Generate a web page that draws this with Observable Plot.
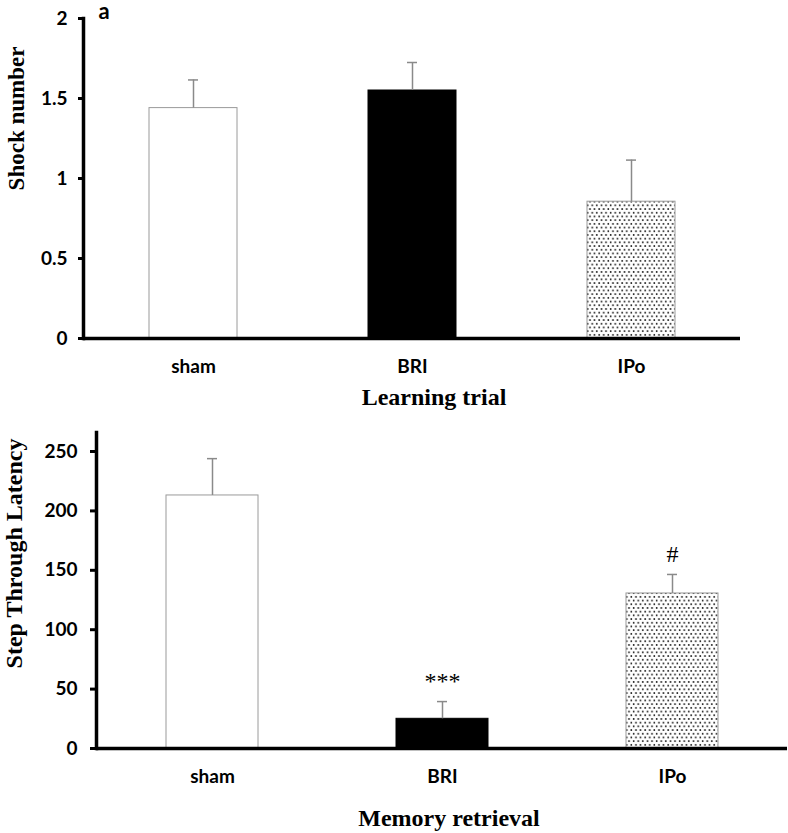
<!DOCTYPE html>
<html>
<head>
<meta charset="utf-8">
<script src="https://cdn.jsdelivr.net/npm/d3@7"></script>
<script src="https://cdn.jsdelivr.net/npm/@observablehq/plot@0.6"></script>
<style>
  html, body { margin: 0; padding: 0; background: white; }
  #chart svg { display: block; }
</style>
</head>
<body>
<svg width="0" height="0" style="position:absolute">
  <defs>
    <pattern id="dots" patternUnits="userSpaceOnUse" width="4.6" height="7.4">
      <rect width="4.6" height="7.4" fill="white"></rect>
      <circle cx="1.15" cy="1.85" r="0.9" fill="#111"></circle>
      <circle cx="3.45" cy="5.55" r="0.9" fill="#111"></circle>
    </pattern>
  </defs>
</svg>
<div id="chart"></div>
<script>
// ---- data ----
const groups = ["sham", "BRI", "IPo"];
const shockMean = [1.44, 1.55, 0.855];
const shockSem = [0.176, 0.175, 0.26];
const shockTicks = [0, 0.5, 1, 1.5, 2];
const latencyMean = [213, 25, 130.5];
const latencySem = [31, 14.5, 16];
const latencySig = ["", "***", "#"];
const latencyTicks = [0, 50, 100, 150, 200, 250];
const panelLetter = "a";
const shockXLabel = "Learning trial";
const shockYLabel = "Shock number";
const latencyXLabel = "Memory retrieval";
const latencyYLabel = "Step Through Latency";

const fills = {sham: "white", BRI: "black", IPo: "url(#dots)"};
const strokes = {sham: "#9a9a9a", BRI: "black", IPo: "#9a9a9a"};

const shockTable = groups.map((g, i) => ({group: g, mean: shockMean[i], sem: shockSem[i]}));
const latencyTable = groups.map((g, i) => ({group: g, mean: latencyMean[i], sem: latencySem[i], sig: latencySig[i]}));

const serif = "'Liberation Serif', 'Times New Roman', serif";
const sans = "Lato, 'Open Sans', sans-serif";

function barMarks(table, capInset) {
  return [
    ...groups.map(g => Plot.barY(table.filter(d => d.group === g), {
      x: "group", y: "mean", fill: fills[g], stroke: strokes[g], strokeWidth: 1
    })),
    Plot.ruleX(table, {x: "group", y1: "mean", y2: d => d.mean + d.sem, stroke: "#8a8a8a", strokeWidth: 1.5}),
    Plot.tickY(table, {x: "group", y: d => d.mean + d.sem, stroke: "#8a8a8a", strokeWidth: 1.5, insetLeft: capInset, insetRight: capInset})
  ];
}

const topChart = Plot.plot({
  width: 788,
  height: 410,
  marginLeft: 83,
  marginRight: 48,
  marginTop: 18,
  marginBottom: 72,
  style: {fontFamily: sans, fontSize: "19px", fontWeight: "bold", color: "black", background: "white"},
  x: {domain: groups, paddingInner: 0.6, paddingOuter: 0.3, label: null},
  y: {domain: [0, 2], label: null},
  marks: [
    ...barMarks(shockTable, 39),
    Plot.axisX({tickSize: 0, tickPadding: 20.5, label: null}),
    Plot.axisY({ticks: shockTicks, tickSize: 5, tickPadding: 11, strokeWidth: 3, tickFormat: d => String(d), label: null}),
    Plot.ruleY([0], {stroke: "black", strokeWidth: 3.5}),
    Plot.frame({anchor: "left", stroke: "black", strokeWidth: 3.5}),
    Plot.text([panelLetter], {frameAnchor: "top-left", text: d => d, textAnchor: "start", lineAnchor: "top", dx: 15, dy: -15, fontSize: 22, fontFamily: sans, fontWeight: "bold"}),
    Plot.text([shockXLabel], {frameAnchor: "bottom", text: d => d, textAnchor: "middle", lineAnchor: "middle", dx: 22, dy: 59, fontSize: 24, fontFamily: serif, fontWeight: "bold"}),
    Plot.text([shockYLabel], {frameAnchor: "left", text: d => d, textAnchor: "middle", lineAnchor: "middle", rotate: -90, dx: -67, dy: -60, fontSize: 23, fontFamily: serif, fontWeight: "bold"})
  ]
});

const bottomChart = Plot.plot({
  width: 788,
  height: 423,
  marginLeft: 96,
  marginRight: 1,
  marginTop: 22,
  marginBottom: 85,
  style: {fontFamily: sans, fontSize: "19px", fontWeight: "bold", color: "black", background: "white"},
  x: {domain: groups, paddingInner: 0.6, paddingOuter: 0.3, label: null},
  y: {domain: [0, 266], label: null},
  marks: [
    ...barMarks(latencyTable, 41),
    Plot.text(latencyTable, {x: "group", y: d => d.mean + d.sem, text: "sig", dy: -20, fontSize: 24, fontFamily: serif, fontWeight: "normal"}),
    Plot.axisX({tickSize: 0, tickPadding: 20.5, label: null}),
    Plot.axisY({ticks: latencyTicks, tickSize: 6, tickPadding: 13, strokeWidth: 3, label: null}),
    Plot.ruleY([0], {stroke: "black", strokeWidth: 3.5}),
    Plot.frame({anchor: "left", stroke: "black", strokeWidth: 3.5}),
    Plot.text([latencyXLabel], {frameAnchor: "bottom", text: d => d, textAnchor: "middle", lineAnchor: "middle", dx: 7, dy: 70, fontSize: 24, fontFamily: serif, fontWeight: "bold"}),
    Plot.text([latencyYLabel], {frameAnchor: "left", text: d => d, textAnchor: "middle", lineAnchor: "middle", rotate: -90, dx: -82, dy: -37, fontSize: 24, fontFamily: serif, fontWeight: "bold"})
  ]
});

document.getElementById("chart").append(topChart, bottomChart);
</script>
</body>
</html>
